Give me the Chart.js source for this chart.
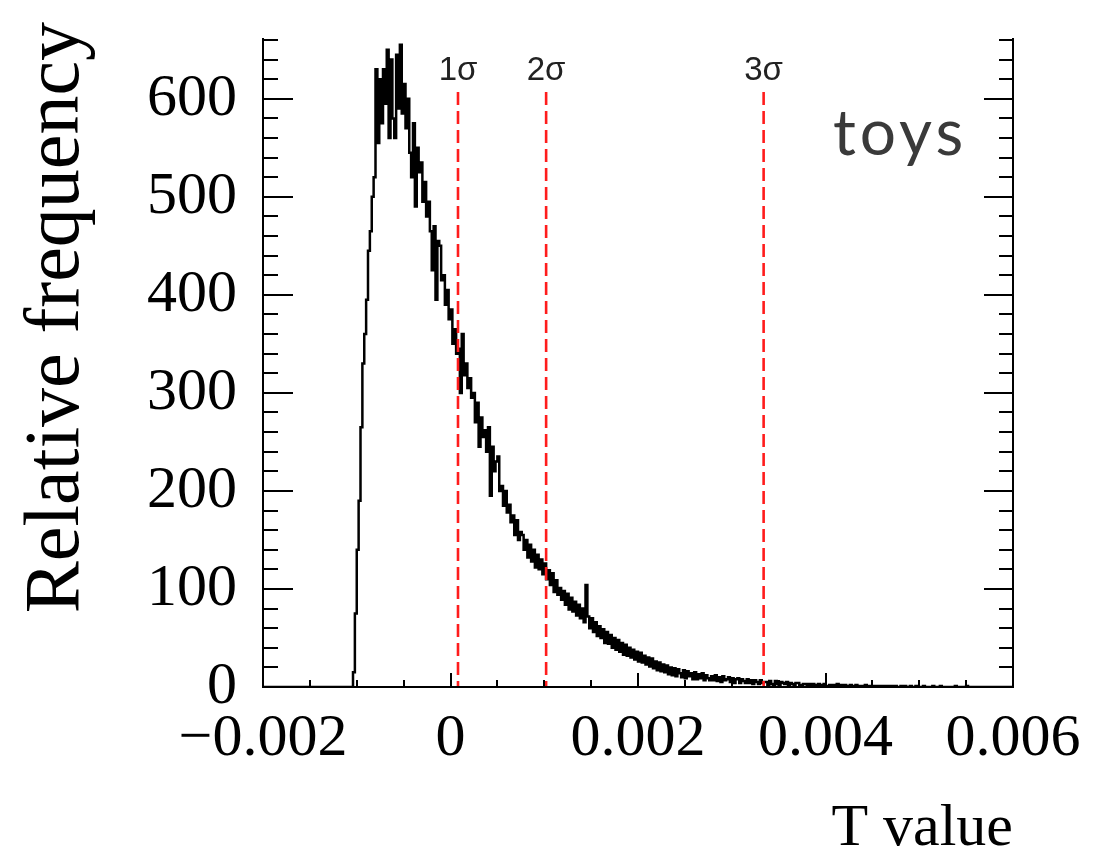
<!DOCTYPE html>
<html>
<head>
<meta charset="utf-8">
<script src="https://cdn.jsdelivr.net/npm/chart.js@4.4.0/dist/chart.umd.min.js"></script>
<style>
  html, body { margin: 0; padding: 0; background: #fff; }
  #wrap { width: 1093px; height: 850px; }
</style>
</head>
<body>
<div id="wrap"><canvas id="tplot" width="1093" height="850"></canvas></div>
<script>
// toy distribution of the T statistic, fixed-width bins starting at histLow
const histLow = -0.00104;
const binWidth = 0.00002;
const toyCounts = [
  15, 75, 140, 190, 265, 330, 360, 395, 445, 465,
  500, 520, 630, 555, 620, 575, 630, 595, 650, 560,
  640, 580, 560, 645, 590, 655, 585, 615, 570, 600,
  545, 520, 575, 490, 550, 525, 535, 495, 515, 480,
  495, 465, 425, 470, 395, 455, 450, 415, 420, 390,
  405, 375, 385, 350, 365, 340, 345, 300, 360, 318,
  330, 305, 315, 295, 300, 270, 290, 245, 275, 255,
  262, 240, 265, 195, 245, 220, 230, 235, 200, 205,
  185, 200, 178, 186, 168, 175, 155, 170, 150, 158,
  155, 140, 150, 132, 145, 128, 140, 122, 135, 120,
  130, 115, 126, 110, 119, 104, 116, 97, 109, 94,
  101, 89, 98, 84, 95, 79, 91, 77, 87, 73,
  84, 70, 80, 66, 104, 72, 60, 70, 56, 66,
  52, 62, 50, 59, 45, 56, 44, 53, 40, 50,
  38, 48, 36, 45, 33, 43, 32, 40, 30, 38,
  28, 36, 26, 35, 25, 32, 23, 30, 21, 29,
  19, 26, 17, 25, 16, 23, 15, 22, 13, 20,
  12, 19, 11, 18, 14, 10, 17, 9, 16, 11,
  14, 8, 15, 8, 13, 9, 14, 7, 12, 9,
  7, 11, 7, 12, 6, 10, 5, 11, 7, 8,
  10, 5, 9, 4, 8, 9, 4, 8, 6, 4,
  8, 4, 7, 3, 7, 5, 3, 7, 4, 5,
  5, 2, 6, 3, 2, 6, 3, 2, 5, 4,
  3, 5, 2, 4, 3, 1, 4, 4, 2, 2,
  3, 3, 1, 3, 2, 3, 1, 2, 3, 2,
  2, 3, 1, 1, 2, 2, 1, 2, 3, 1,
  2, 1, 2, 1, 1, 2, 1, 1, 2, 1,
  1, 1, 1, 2, 1, 0, 1, 1, 0, 1,
  1, 0, 1, 1, 0, 1, 0, 1, 0, 1,
  0, 0, 1, 0, 1, 0, 0, 1, 0, 0,
  1, 0, 0, 0, 1, 0, 0, 0, 0, 1,
  0, 0, 0, 1, 0, 0, 0, 0, 0, 0,
  0, 1, 0, 0, 0, 0, 0, 1, 0, 0
];

const xMin = -0.002, xMax = 0.006;
const yMin = 0, yMax = 662;
const xTickValues = [-0.002, 0, 0.002, 0.004, 0.006];
const xTickLabels = ['\u22120.002', '0', '0.002', '0.004', '0.006'];
const yTickValues = [0, 100, 200, 300, 400, 500, 600];
const yTickLabels = ['0', '100', '200', '300', '400', '500', '600'];

// quantile lines of the toy distribution
const sigmaValues = [0.00008, 0.00102, 0.00334];
const sigmaLabels = ['1\u03c3', '2\u03c3', '3\u03c3'];
const sigmaTop = 607;

const SERIF = '"Liberation Serif", "Times New Roman", serif';

// outline of the histogram: left bin edges, drawn as steps
const histPoints = [{x: xMin, y: 0}];
toyCounts.forEach((c, i) => histPoints.push({x: histLow + i * binWidth, y: c}));
histPoints.push({x: histLow + toyCounts.length * binWidth, y: 0});
histPoints.push({x: xMax, y: 0});

const sigmaSets = sigmaValues.map(v => ({
  data: [{x: v, y: sigmaTop}, {x: v, y: 0}],
  borderColor: '#ff1c1c',
  borderWidth: 2.6,
  borderDash: [13, 6],
  pointRadius: 0,
  order: 1
}));

// frame, ROOT style inner ticks, titles and text labels
const rootStyle = {
  id: 'rootStyle',
  afterDatasetsDraw(chart) {
    const ctx = chart.ctx;
    const a = chart.chartArea;
    const xs = chart.scales.x, ys = chart.scales.y;
    ctx.save();
    ctx.strokeStyle = '#000';
    ctx.lineWidth = 2;
    ctx.beginPath();
    ctx.moveTo(a.left, a.top); ctx.lineTo(a.left, a.bottom);
    ctx.lineTo(a.right, a.bottom); ctx.lineTo(a.right, a.top);
    // y ticks every 20, long ones every 100
    for (let v = 0; v <= yMax; v += 20) {
      const y = Math.round(ys.getPixelForValue(v));
      const major = v % 100 === 0;
      ctx.moveTo(a.left, y); ctx.lineTo(a.left + (major ? 30 : 15), y);
      ctx.moveTo(a.right, y); ctx.lineTo(a.right - (major ? 29 : 14), y);
    }
    // x ticks every 0.0005, long ones every 0.002
    for (let k = 0; k <= 16; k++) {
      const x = Math.round(xs.getPixelForValue(xMin + k * 0.0005));
      const len = k % 4 === 0 ? 14 : 7;
      ctx.moveTo(x, a.bottom); ctx.lineTo(x, a.bottom - len);
    }
    ctx.stroke();

    ctx.fillStyle = '#000';
    ctx.font = '60px ' + SERIF;
    ctx.textAlign = 'right';
    ctx.textBaseline = 'alphabetic';
    ctx.fillText('T value', a.right, 845);

    ctx.save();
    ctx.translate(78, 22);
    ctx.rotate(-Math.PI / 2);
    ctx.font = '78px ' + SERIF;
    ctx.textAlign = 'right';
    ctx.fillText('Relative frequency', 0, 0);
    ctx.restore();

    ctx.fillStyle = '#222';
    ctx.font = '33px "Liberation Sans", Arial, sans-serif';
    ctx.textAlign = 'center';
    sigmaValues.forEach((v, i) => {
      ctx.fillText(sigmaLabels[i], xs.getPixelForValue(v), ys.getPixelForValue(sigmaTop) - 12);
    });

    ctx.fillStyle = '#3a3a3a';
    ctx.font = '64px Lato, "Open Sans", sans-serif';
    ctx.textAlign = 'left';
    ctx.letterSpacing = '4px';
    ctx.fillText('toys', 833, 155);
    ctx.restore();
  }
};

new Chart(document.getElementById('tplot'), {
  type: 'line',
  data: {
    datasets: [
      ...sigmaSets,
      {
        data: histPoints,
        borderColor: '#000',
        borderWidth: 2.5,
        stepped: true,
        pointRadius: 0,
        order: 2
      }
    ]
  },
  options: {
    responsive: false,
    animation: false,
    devicePixelRatio: 1,
    layout: { padding: { left: 0, right: 80, top: 38, bottom: 0 } },
    plugins: { legend: { display: false }, tooltip: { enabled: false } },
    scales: {
      x: {
        type: 'linear',
        min: xMin,
        max: xMax,
        grid: { display: false },
        border: { display: false },
        afterBuildTicks: s => { s.ticks = xTickValues.map(v => ({value: v})); },
        afterFit: s => {
          s.height = 850 - 687;
          s.paddingLeft = 0; s.paddingRight = 0;
        },
        ticks: {
          color: '#000',
          padding: 8,
          maxRotation: 0,
          autoSkip: false,
          font: { family: SERIF, size: 60 },
          callback: (v, i) => xTickLabels[i]
        }
      },
      y: {
        min: yMin,
        max: yMax,
        grid: { display: false },
        border: { display: false },
        afterBuildTicks: s => { s.ticks = yTickValues.map(v => ({value: v})); },
        afterFit: s => {
          s.width = 263;
          s.paddingTop = 0; s.paddingBottom = 0;
        },
        ticks: {
          color: '#000',
          padding: 18,
          autoSkip: false,
          font: { family: SERIF, size: 60 },
          callback: (v, i) => yTickLabels[i]
        }
      }
    }
  },
  plugins: [rootStyle]
});
</script>
</body>
</html>
